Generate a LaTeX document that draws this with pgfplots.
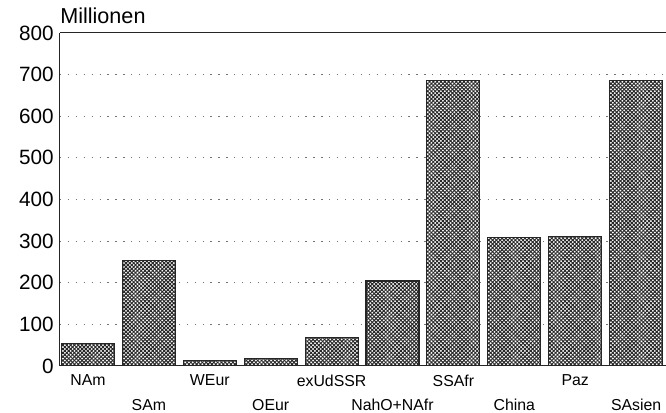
\documentclass[border=0pt]{standalone}
\usepackage{fontspec}
\setmainfont{Liberation Sans}
\usepackage{pgfplots}
\pgfplotsset{compat=1.18}
\usetikzlibrary{patterns.meta}
\begin{document}
\begin{tikzpicture}
\begin{axis}[
  at={(33.3pt,25.6pt)}, anchor=south west,
  scale only axis,
  width=336.7pt, height=185pt,
  xmin=-0.46, xmax=9.49,
  ymin=0, ymax=800,
  ytick={0,100,...,800},
  xtick={0,2,4,6,8},
  xticklabels={NAm,WEur,exUdSSR,SSAfr,Paz},
  extra x ticks={1,3,5,7,9},
  extra x tick labels={SAm,OEur,NahO+NAfr,China,SAsien},
  extra x tick style={xticklabel style={yshift=-13.5pt}},
  major tick length=0pt,
  axis x line*=bottom, axis y line*=left,
  axis line style={-, black!85, line width=0.6pt},
  ymajorgrids,
  grid style={black!55, line width=0.6pt, dash pattern=on 0.7pt off 3.7pt},
  /pgf/number format/assume math mode=true,
  yticklabel style={font=\fontsize{11.5}{13}\selectfont},
  xticklabel style={font=\fontsize{8.8}{10.5}\selectfont, yshift=-1.5pt},
  ybar, bar width=0.87, bar shift=0pt,
  clip=false,
]
\addplot[draw=black!85, line width=0.6pt, fill=white,
  postaction={pattern={Lines[angle=45,distance=1.5pt,line width=0.55pt]}, pattern color=black!85},
  postaction={pattern={Lines[angle=-45,distance=1.5pt,line width=0.55pt]}, pattern color=black!85}]
  coordinates {(0,53) (1,253) (2,13) (3,17) (4,68) (5,204) (6,686) (7,308) (8,310) (9,686)};
\draw[black!85, line width=0.6pt] (rel axis cs:0,1) -- (rel axis cs:1,1);
\node[anchor=base west, inner sep=0pt, font=\fontsize{12}{14}\selectfont] at ([yshift=5pt]rel axis cs:0,1) {Millionen};
\end{axis}
\pgfresetboundingbox
\path[use as bounding box] (0,0) rectangle (370pt,228.9pt);
\end{tikzpicture}
\end{document}
